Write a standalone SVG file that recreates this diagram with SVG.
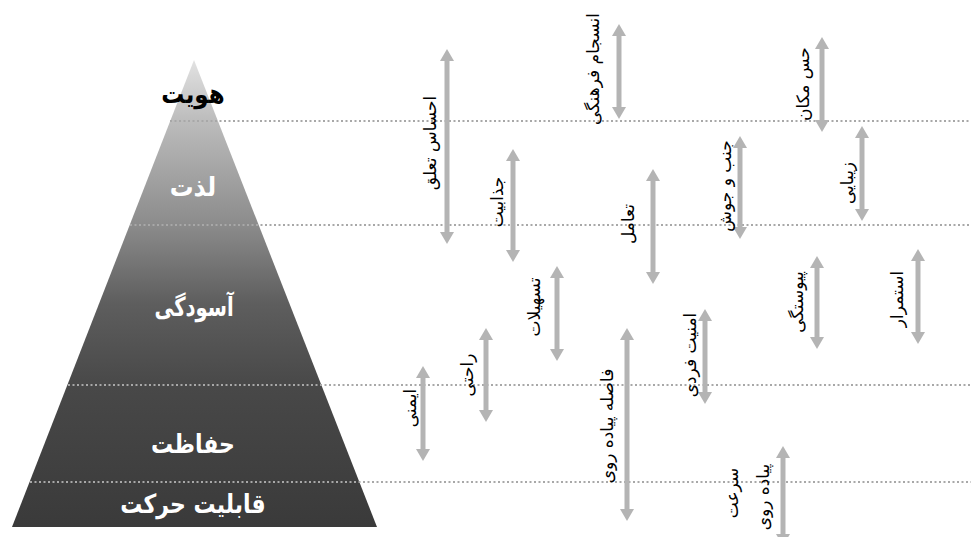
<svg xmlns="http://www.w3.org/2000/svg" width="971" height="537" viewBox="0 0 971 537">
<style>
.lvl{font-family:"DejaVu Sans",sans-serif;font-weight:bold;font-size:25px;text-anchor:middle;fill:#ffffff}
.lbl{font-family:"DejaVu Sans",sans-serif;font-size:17px;text-anchor:middle;dominant-baseline:central;fill:#000000}
.dot{stroke:#a8a8a8;stroke-width:2;stroke-dasharray:2 2.5;fill:none}
.arr{stroke:#b4b4b4;stroke-width:5;fill:none;marker-start:url(#head);marker-end:url(#head)}
</style>
<defs>
<linearGradient id="pg" gradientUnits="userSpaceOnUse" x1="0" y1="60" x2="0" y2="527">
<stop offset="0" stop-color="#e2e2e2"/>
<stop offset="0.13" stop-color="#bcbcbc"/>
<stop offset="0.35" stop-color="#8c8c8c"/>
<stop offset="0.52" stop-color="#5e5e5e"/>
<stop offset="0.7" stop-color="#484848"/>
<stop offset="1" stop-color="#3a3a3a"/>
</linearGradient>
<marker id="head" markerUnits="userSpaceOnUse" markerWidth="12" markerHeight="14" viewBox="0 0 12 14" refX="1" refY="7" orient="auto-start-reverse">
<path d="M0,0 L12,7 L0,14 z" fill="#b4b4b4"/>
</marker>
</defs>
<rect width="971" height="537" fill="#ffffff"/>
<g id="pyramid">
<path d="M194,60 L377,527 L12,527 Z" fill="url(#pg)"/>
</g>
<g id="level-lines">
<line class="dot" x1="170" y1="121" x2="971" y2="121"/>
<line class="dot" x1="130" y1="225" x2="971" y2="225"/>
<line class="dot" x1="68" y1="385" x2="971" y2="385"/>
<line class="dot" x1="30" y1="482" x2="971" y2="482"/>
</g>
<g id="level-hoviyat"><text class="lvl" transform="translate(193,103) scale(0.92,1.05)" style="fill:#000">هویت</text></g>
<g id="level-lezzat"><text class="lvl" transform="translate(193,196) scale(0.95,1.05)">لذت</text></g>
<g id="level-asudegi"><text class="lvl" transform="translate(194,316) scale(0.78,1.05)">آسودگی</text></g>
<g id="level-hefazat"><text class="lvl" transform="translate(193,453) scale(0.88,1.05)">حفاظت</text></g>
<g id="level-ghabeliyat"><text class="lvl" transform="translate(193,513) scale(0.88,1.05)">قابلیت حرکت</text></g>
<g id="connectors">
<line class="arr" x1="447" y1="60" x2="447" y2="233"/>
<line class="arr" x1="619" y1="35" x2="619" y2="108"/>
<line class="arr" x1="513" y1="160" x2="513" y2="251"/>
<line class="arr" x1="653" y1="180" x2="653" y2="273"/>
<line class="arr" x1="822" y1="48" x2="822" y2="121"/>
<line class="arr" x1="740" y1="147" x2="740" y2="228"/>
<line class="arr" x1="862" y1="137" x2="862" y2="210"/>
<line class="arr" x1="817" y1="267" x2="817" y2="338"/>
<line class="arr" x1="918" y1="260" x2="918" y2="333"/>
<line class="arr" x1="557" y1="277" x2="557" y2="350"/>
<line class="arr" x1="486" y1="339" x2="486" y2="411"/>
<line class="arr" x1="423" y1="377" x2="423" y2="450"/>
<line class="arr" x1="627" y1="339" x2="627" y2="510"/>
<line class="arr" x1="705" y1="320" x2="705" y2="393"/>
<line class="arr" x1="783" y1="457" x2="783" y2="535"/>
</g>
<g id="f-ehsas"><text class="lbl" transform="translate(430,143) rotate(-90)">احساس تعلق</text></g>
<g id="f-ensejam"><text class="lbl" transform="translate(593,69) rotate(-90)">انسجام فرهنگی</text></g>
<g id="f-jazabiyat"><text class="lbl" transform="translate(497,202) rotate(-90)">جذابیت</text></g>
<g id="f-taamol"><text class="lbl" transform="translate(628,224) rotate(-90)">تعامل</text></g>
<g id="f-hes"><text class="lbl" transform="translate(803,84) rotate(-90)">حس مکان</text></g>
<g id="f-jonb"><text class="lbl" transform="translate(725,186) rotate(-90)">جنب و جوش</text></g>
<g id="f-zibayi"><text class="lbl" transform="translate(847,183) rotate(-90)">زیبایی</text></g>
<g id="f-peyvastegi"><text class="lbl" transform="translate(797,302) rotate(-90)">پیوستگی</text></g>
<g id="f-estemrar"><text class="lbl" transform="translate(897,299) rotate(-90)">استمرار</text></g>
<g id="f-tashilat"><text class="lbl" transform="translate(534,307) rotate(-90)">تسهیلات</text></g>
<g id="f-rahati"><text class="lbl" transform="translate(467,375) rotate(-90)">راحتی</text></g>
<g id="f-imeni"><text class="lbl" transform="translate(410,408) rotate(-90)">ایمنی</text></g>
<g id="f-fasele"><text class="lbl" transform="translate(607,426) rotate(-90)">فاصله پیاده روی</text></g>
<g id="f-amniyat"><text class="lbl" transform="translate(690,355) rotate(-90)">امنیت فردی</text></g>
<g id="f-sorat">
<text class="lbl" transform="translate(732,493) rotate(-90)">سرعت</text>
<text class="lbl" transform="translate(763,497) rotate(-90)">پیاده روی</text>
</g>
</svg>
